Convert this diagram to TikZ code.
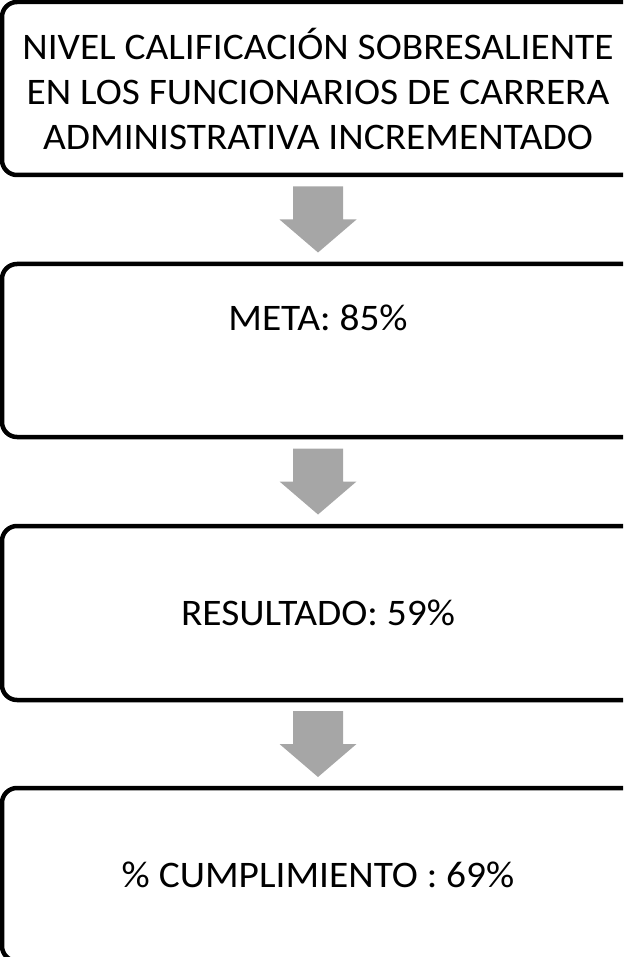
\documentclass[tikz,border=0pt]{standalone}
\usepackage{fontspec}
\setmainfont{Carlito}[FakeStretch=1.05]
\usetikzlibrary{calc}
\definecolor{flechagris}{HTML}{A6A6A6}

\begin{document}
\begin{tikzpicture}
  [x=1pt,y=1pt,
   % Styles
   caja/.style={draw,line width=4.5pt,rounded corners=15pt,fill=white,
     minimum width=648pt,minimum height=173pt,inner sep=0pt},
   texto/.style={inner sep=0pt,align=center,font=\fontsize{37.5}{45}\selectfont},
   flecha/.style={fill=flechagris}]

  \useasboundingbox (0,0) rectangle (623,-957);
  \clip (0,0) rectangle (623,-957);

  % Las cajas (el borde derecho queda fuera de la hoja)
  \node[caja] (nivel) at (326,-88.5) {};
  \node[caja] (meta) at (326,-350.5) {};
  \node[caja,minimum height=174pt] (resultado) at (326,-613) {};
  \node[caja] (cumplimiento) at (326,-874.5) {};

  % Textos
  \node[texto] (niveltexto) at ([xshift=-8pt]nivel.center)
    {NIVEL CALIFICACIÓN SOBRESALIENTE\\EN LOS FUNCIONARIOS DE CARRERA\\ADMINISTRATIVA INCREMENTADO};
  \node[texto] (metatexto) at ([xshift=-8pt,yshift=33pt]meta.center) {META: 85\%};
  \node[texto] (resultadotexto) at ([xshift=-8pt]resultado.center) {RESULTADO: 59\%};
  \node[texto] (cumplimientotexto) at ([xshift=-8pt]cumplimiento.center) {\% CUMPLIMIENTO : 69\%};

  % Flechas entre cajas
  \foreach \a/\b in {nivel/meta, meta/resultado, resultado/cumplimiento}
    \fill[flecha] ($(\a.south)!.5!(\b.north)+(-33,33)$) -- ++(50,0) -- ++(0,-33)
      -- ++(13.5,0) -- ++(-38.5,-33) -- ++(-38.5,33) -- ++(13.5,0) -- cycle;
\end{tikzpicture}
\end{document}
